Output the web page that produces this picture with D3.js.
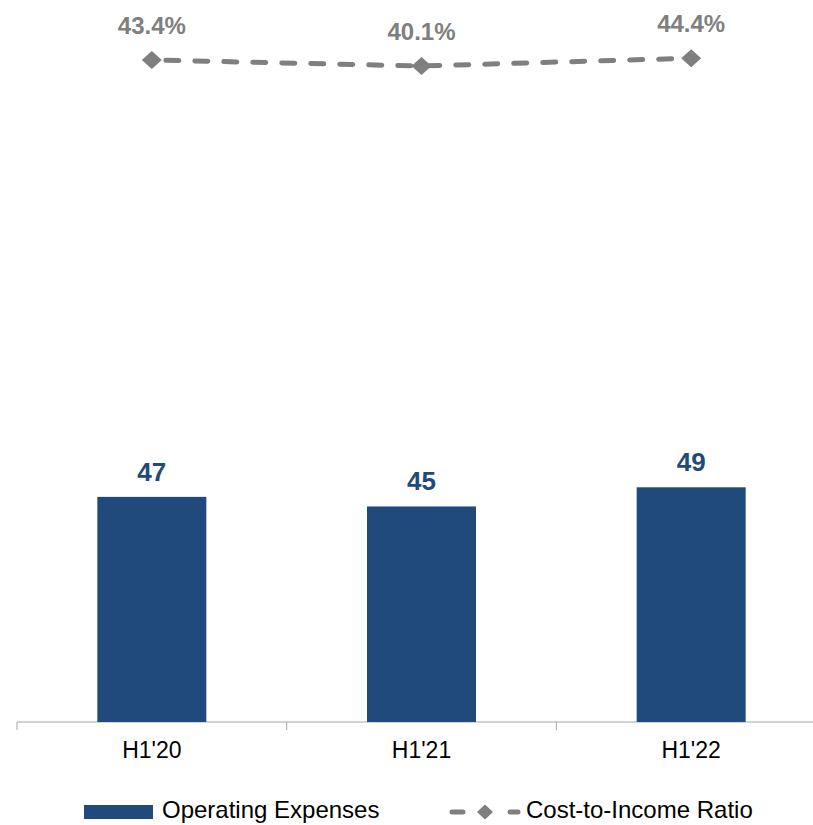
<!DOCTYPE html>
<html>
<head>
<meta charset="utf-8">
<script src="https://cdn.jsdelivr.net/npm/d3@7"></script>
<style>
  html, body { margin: 0; padding: 0; background: #fff; }
  svg { display: block; font-family: "Liberation Sans", Arial, sans-serif; }
</style>
</head>
<body>
<svg id="chart" width="813" height="825"></svg>
<script>
// Half-year periods
const periods = ["H1'20", "H1'21", "H1'22"];
// Operating expenses (bars)
const opex = [47, 45, 49];
// Cost-to-income ratio, % (dashed line)
const costIncome = [43.4, 40.1, 44.4];
const seriesNames = ["Operating Expenses", "Cost-to-Income Ratio"];

const barColor = "#214a7c";
const lineColor = "#7f7f7f";
const axisColor = "#a6a6a6";

const svg = d3.select("#chart");

const x = d3.scaleBand().domain(periods).range([17, 826]).paddingInner(0).paddingOuter(0);
const y = d3.scaleLinear().domain([0, 50]).range([722, 482.5]);
const y2 = d3.scaleLinear().domain([0, 50]).range([139, 48]);

const barW = 109;
const cx = p => x(p) + x.bandwidth() / 2;

// Category axis along the bottom
const gx = svg.append("g").attr("transform", "translate(0,722)");
gx.append("line").attr("x1", 17).attr("x2", 813).attr("y1", 0).attr("y2", 0)
  .attr("stroke", axisColor).attr("stroke-width", 1);
// Boundary ticks between categories
const bounds = periods.map(p => x(p)).concat([x(periods[periods.length - 1]) + x.bandwidth()]);
gx.selectAll(".bt").data(bounds).join("line")
  .attr("x1", d => d).attr("x2", d => d).attr("y1", 0).attr("y2", 8)
  .attr("stroke", axisColor).attr("stroke-width", 1);
gx.selectAll(".lbl").data(periods).join("text")
  .attr("x", d => cx(d)).attr("y", 36)
  .attr("text-anchor", "middle").attr("font-size", 23).attr("fill", "#000")
  .text(d => d);

// Bars
svg.selectAll(".bar").data(opex).join("rect")
  .attr("x", (d, i) => cx(periods[i]) - barW / 2)
  .attr("width", barW)
  .attr("y", d => y(d))
  .attr("height", d => y(0) - y(d))
  .attr("fill", barColor);

svg.selectAll(".barLbl").data(opex).join("text")
  .attr("x", (d, i) => cx(periods[i]))
  .attr("y", d => y(d) - 16)
  .attr("text-anchor", "middle").attr("font-size", 26).attr("font-weight", "bold")
  .attr("fill", barColor)
  .text(d => d);

// Ratio line
const line = d3.line().x((d, i) => cx(periods[i])).y(d => y2(d));
svg.append("path").datum(costIncome)
  .attr("d", line).attr("fill", "none")
  .attr("stroke", lineColor).attr("stroke-width", 5)
  .attr("stroke-dasharray", "13,16").attr("stroke-dashoffset", -14)
  .attr("stroke-linecap", "round");

// Diamond marker, w wide and h tall
const diamondPath = (w, h) => `M0,${-h / 2}L${w / 2},0L0,${h / 2}L${-w / 2},0Z`;
svg.selectAll(".pt").data(costIncome).join("path")
  .attr("d", diamondPath(20, 18))
  .attr("transform", (d, i) => `translate(${cx(periods[i])},${y2(d)})`)
  .attr("fill", lineColor);

svg.selectAll(".ptLbl").data(costIncome).join("text")
  .attr("x", (d, i) => cx(periods[i]))
  .attr("y", d => y2(d) - 26)
  .attr("text-anchor", "middle").attr("font-size", 24).attr("font-weight", "bold")
  .attr("fill", lineColor)
  .text(d => d.toFixed(1) + "%");

// Legend
const lg = svg.append("g").attr("transform", "translate(0,812)");
lg.append("rect").attr("x", 84).attr("y", -7).attr("width", 69).attr("height", 14).attr("fill", barColor);
lg.append("text").attr("x", 162).attr("y", 6).attr("font-size", 24).text(seriesNames[0]);
lg.append("line").attr("x1", 452).attr("x2", 463).attr("y1", 0).attr("y2", 0)
  .attr("stroke", lineColor).attr("stroke-width", 5).attr("stroke-linecap", "round");
lg.append("line").attr("x1", 510).attr("x2", 518).attr("y1", 0).attr("y2", 0)
  .attr("stroke", lineColor).attr("stroke-width", 5).attr("stroke-linecap", "round");
lg.append("path").attr("d", diamondPath(16, 15)).attr("transform", "translate(485,0)").attr("fill", lineColor);
lg.append("text").attr("x", 526).attr("y", 6).attr("font-size", 24).text(seriesNames[1]);
</script>
</body>
</html>
